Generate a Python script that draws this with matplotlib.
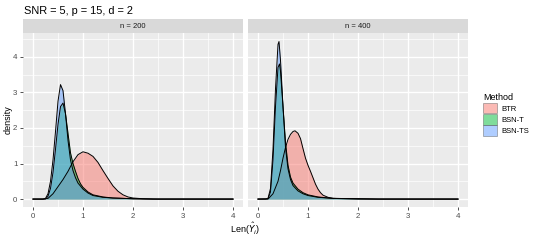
import matplotlib.pyplot as plt
from matplotlib.patches import Patch

plt.rcParams['font.family'] = ['Liberation Sans', 'DejaVu Sans']

methods = ['BTR', 'BSN-T', 'BSN-TS']
colors = ['#F8766D', '#00BA38', '#619CFF']
panels = ['n = 200', 'n = 400']

# density curves, per panel and method: (x, density)
p1_btr_x = [0, 0.2, 0.3, 0.4, 0.5, 0.6, 0.7, 0.8, 0.9, 1.0, 1.1, 1.2, 1.3, 1.4, 1.5, 1.6, 1.7, 1.8, 1.9, 2.0, 2.2, 2.5, 4]
p1_btr_y = [0, 0, 0.02, 0.15, 0.35, 0.55, 0.78, 1.05, 1.25, 1.33, 1.29, 1.2, 1.03, 0.8, 0.58, 0.37, 0.22, 0.12, 0.06, 0.03, 0.01, 0, 0]
p1_bsnt_x = [0, 0.25, 0.3, 0.35, 0.4, 0.45, 0.5, 0.55, 0.6, 0.65, 0.7, 0.75, 0.8, 0.85, 0.9, 0.95, 1.0, 1.1, 1.2, 1.4, 1.6, 2.0, 2.4, 4]
p1_bsnt_y = [0, 0, 0.08, 0.3, 0.75, 1.4, 2.1, 2.6, 2.7, 2.4, 1.85, 1.3, 1.0, 0.78, 0.58, 0.43, 0.33, 0.2, 0.12, 0.06, 0.03, 0.01, 0, 0]
p1_bsnts_x = [0, 0.2, 0.25, 0.3, 0.35, 0.4, 0.45, 0.5, 0.55, 0.6, 0.65, 0.7, 0.75, 0.8, 0.85, 0.9, 1.0, 1.1, 1.2, 1.4, 1.6, 2.0, 2.4, 4]
p1_bsnts_y = [0, 0, 0.02, 0.15, 0.5, 1.1, 1.9, 2.75, 3.22, 3.05, 2.4, 1.65, 1.1, 0.8, 0.6, 0.45, 0.28, 0.17, 0.1, 0.05, 0.03, 0.01, 0, 0]

p2_btr_x = [0, 0.2, 0.3, 0.4, 0.45, 0.5, 0.55, 0.6, 0.65, 0.7, 0.74, 0.8, 0.85, 0.9, 0.95, 1.0, 1.05, 1.1, 1.15, 1.2, 1.25, 1.3, 1.4, 1.5, 1.7, 2.0, 4]
p2_btr_y = [0, 0, 0.15, 0.5, 0.8, 1.15, 1.45, 1.68, 1.82, 1.9, 1.92, 1.85, 1.7, 1.42, 1.15, 0.95, 0.78, 0.6, 0.42, 0.28, 0.18, 0.11, 0.05, 0.02, 0.01, 0, 0]
p2_bsnt_x = [0, 0.2, 0.25, 0.3, 0.35, 0.4, 0.43, 0.45, 0.5, 0.55, 0.6, 0.65, 0.7, 0.8, 0.9, 1.0, 1.2, 1.5, 2.0, 2.4, 4]
p2_bsnt_y = [0, 0.01, 0.2, 1.1, 2.6, 3.7, 3.8, 3.6, 2.6, 1.6, 0.95, 0.62, 0.45, 0.28, 0.18, 0.12, 0.06, 0.02, 0.01, 0, 0]
p2_bsnts_x = [0, 0.15, 0.2, 0.25, 0.3, 0.35, 0.4, 0.42, 0.45, 0.5, 0.55, 0.6, 0.65, 0.7, 0.8, 0.9, 1.0, 1.2, 1.5, 2.0, 2.4, 4]
p2_bsnts_y = [0, 0, 0.02, 0.3, 1.4, 3.1, 4.35, 4.43, 3.9, 2.6, 1.45, 0.85, 0.55, 0.38, 0.23, 0.15, 0.1, 0.05, 0.02, 0.01, 0, 0]

curves = [
    [(p1_btr_x, p1_btr_y), (p1_bsnt_x, p1_bsnt_y), (p1_bsnts_x, p1_bsnts_y)],
    [(p2_btr_x, p2_btr_y), (p2_bsnt_x, p2_bsnt_y), (p2_bsnts_x, p2_bsnts_y)],
]

W, H = 540, 240
fig = plt.figure(figsize=(W / 100, H / 100), dpi=100)
bg = '#EBEBEB'
tick_col = '#4D4D4D'
alpha = 0.5

lefts = [23, 248]
pw = 220
ptop, pbot = 33, 207
strip_h = 14

for i, (lx, lab) in enumerate(zip(lefts, panels)):
    ax = fig.add_axes([lx / W, 1 - pbot / H, pw / W, (pbot - ptop) / H])
    ax.set_facecolor(bg)
    ax.set_xlim(-0.2, 4.2)
    ax.set_ylim(-0.2225, 4.67)
    ax.set_xticks([0, 1, 2, 3, 4])
    ax.set_yticks([0, 1, 2, 3, 4])
    ax.set_xticks([0.5, 1.5, 2.5, 3.5], minor=True)
    ax.set_yticks([0.5, 1.5, 2.5, 3.5, 4.5], minor=True)
    ax.grid(which='major', color='white', lw=1.0)
    ax.grid(which='minor', color='white', lw=0.5)
    ax.set_axisbelow(True)
    for s in ax.spines.values():
        s.set_visible(False)
    ax.tick_params(which='major', length=2.5, width=0.6, color='#333333',
                   labelsize=5.7, labelcolor=tick_col, pad=1.5)
    ax.tick_params(which='minor', length=0)
    if i == 1:
        ax.tick_params(axis='y', which='major', length=0, labelleft=False)
    for (cx, cy), col in zip(curves[i], colors):
        ax.fill_between(cx, cy, 0, color=col, alpha=alpha, lw=0)
        ax.plot(cx, cy, color='black', lw=0.7)

    sax = fig.add_axes([lx / W, 1 - ptop / H, pw / W, strip_h / H])
    sax.set_facecolor('#D9D9D9')
    sax.set_xticks([])
    sax.set_yticks([])
    for s in sax.spines.values():
        s.set_visible(False)
    sax.text(0.5, 0.5, lab, ha='center', va='center', fontsize=5.5, color='#1A1A1A',
             transform=sax.transAxes)

fig.text(24 / W, 1 - 11 / H, 'SNR = 5, p = 15, d = 2', fontsize=7.9, ha='left', va='center')
fig.text(245 / W, 1 - 229 / H, r'Len($\hat{Y}_i$)', fontsize=6.5, ha='center', va='center')
fig.text(8 / W, 1 - 120 / H, 'density', fontsize=6.5, rotation=90, ha='center', va='center')

handles = [Patch(facecolor=c, alpha=alpha, edgecolor='#555555', lw=0.6) for c in colors]
leg = fig.legend(handles, methods, loc='upper left', bbox_to_anchor=(480 / W, 1 - 90 / H),
                 title='Method', fontsize=5.5, title_fontsize=6.5, frameon=False,
                 handlelength=1.8, handleheight=1.75, handletextpad=0.6, labelspacing=0.1,
                 borderaxespad=0)
leg._legend_box.align = 'left'

fig.savefig('out.png', dpi=100)
